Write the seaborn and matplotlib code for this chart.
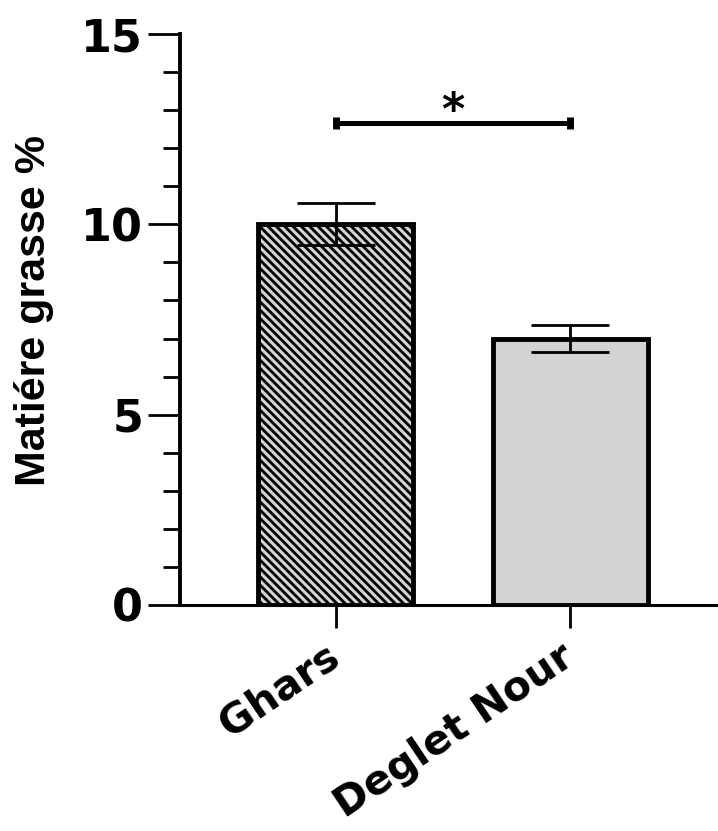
import matplotlib
matplotlib.use("Agg")
import matplotlib.pyplot as plt
from matplotlib.ticker import MultipleLocator
import seaborn as sns
import pandas as pd

# Fat content per date variety (mean and SEM)
varieties = ["Ghars", "Deglet Nour"]
fat_mean = [10.0, 7.0]
fat_sem = [0.55, 0.36]
signif_label = "*"
signif_height = 12.66

sns.set_theme(style="ticks")
plt.rcParams["font.family"] = ["DejaVu Sans"]
plt.rcParams["hatch.linewidth"] = 2.0
for key in ("text.color", "axes.labelcolor", "xtick.color", "ytick.color",
            "axes.edgecolor"):
    plt.rcParams[key] = "black"

df = pd.DataFrame({"variety": varieties, "fat": fat_mean})

fig = plt.figure(figsize=(7.18, 8.31), dpi=100)
ax = fig.add_axes([0.2507, 0.272, 0.7493, 0.687])

sns.barplot(data=df, x="variety", y="fat", order=varieties, errorbar=None,
            width=0.66, color="#d3d3d3", edgecolor="black", linewidth=3.5,
            saturation=1, ax=ax, zorder=2)
ax.patches[0].set_hatch("\\\\\\\\")

ax.errorbar(range(len(varieties)), fat_mean, yerr=fat_sem, fmt="none",
            ecolor="black", elinewidth=2.0, capsize=28, capthick=2.0, zorder=4)

# Significance bracket between the two varieties
ax.plot([0, 1], [signif_height, signif_height], color="black", lw=3.6,
        marker="|", markersize=9, markeredgewidth=5, solid_capstyle="butt",
        zorder=5)
ax.text(0.5, signif_height - 0.02, signif_label, ha="center", va="baseline",
        fontsize=32, fontweight="bold", color="black", zorder=6)

ax.set_xlim(-0.662, 1.628)
ax.set_ylim(0, 15)
ax.yaxis.set_major_locator(MultipleLocator(5))
ax.yaxis.set_minor_locator(MultipleLocator(1))

sns.despine(ax=ax)
ax.spines["left"].set_linewidth(2.8)
ax.spines["bottom"].set_linewidth(2.2)

ax.tick_params(axis="y", which="major", length=23, width=2.0,
               pad=3.5, labelsize=32)
ax.tick_params(axis="y", which="minor", length=12, width=2.0)
ax.tick_params(axis="x", which="major", length=16.5, width=2.0,
               pad=18, labelsize=29.5)
for lab in ax.get_yticklabels():
    lab.set_fontweight("bold")
for lab in ax.get_xticklabels():
    lab.set_fontweight("bold")
    lab.set_rotation(34)
    lab.set_ha("right")
    lab.set_va("center")
    lab.set_rotation_mode("anchor")

ax.set_xlabel("")
ax.set_ylabel("Matiére grasse %", fontsize=31, fontweight="bold",
              family=["Liberation Sans", "DejaVu Sans"])
ax.yaxis.set_label_coords(-0.235, 0.515)

fig.savefig("out.png", dpi=100)
